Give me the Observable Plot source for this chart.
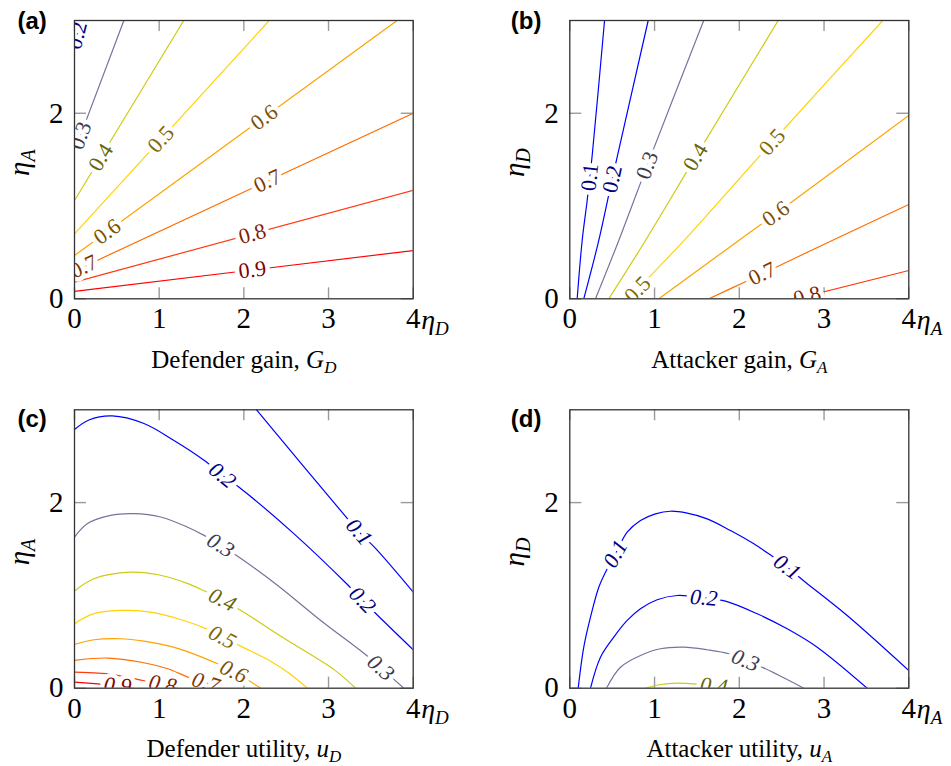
<!DOCTYPE html>
<html><head><meta charset="utf-8">
<script src="https://cdn.jsdelivr.net/npm/d3@7"></script>
<script src="https://cdn.jsdelivr.net/npm/@observablehq/plot@0.6"></script>
<style>
html,body{margin:0;padding:0;background:#fff;}
#root{position:relative;width:951px;height:766px;overflow:hidden;background:#fff;}
#root svg{position:absolute;}
#root svg text{font-family:'Liberation Serif','Times New Roman',serif;}
#root svg text.letter{font-family:'Liberation Sans',Arial,sans-serif;font-weight:bold;}
</style></head><body><div id="root"></div>
<script>
// ---------- data ----------
const xTicks = [0, 1, 2, 3, 4];
const yTicks = [0, 2];
const levels = [0.1, 0.2, 0.3, 0.4, 0.5, 0.6, 0.7, 0.8, 0.9];

// (a) Defender gain G_D : x = eta_D, y = eta_A
const contoursA = [
  {level: 0.2, pts: [[0, 2.73], [0.074, 3]]},
  {level: 0.3, pts: [[0, 1.59], [0.583, 3]]},
  {level: 0.4, pts: [[0, 1.06], [1.29, 3]]},
  {level: 0.5, pts: [[0, 0.70], [2.30, 3]]},
  {level: 0.6, pts: [[0, 0.467], [3.81, 3]]},
  {level: 0.7, pts: [[0, 0.30], [4, 2.0]]},
  {level: 0.8, pts: [[0, 0.18], [4, 1.17]]},
  {level: 0.9, pts: [[0, 0.08], [4, 0.52]]}
];
const labelsA = [
  {level: 0.2, x: 0.03, y: 2.84},
  {level: 0.3, x: 0.07, y: 1.76},
  {level: 0.4, x: 0.31, y: 1.525},
  {level: 0.5, x: 1.02, y: 1.72},
  {level: 0.6, x: 0.386, y: 0.724},
  {level: 0.6, x: 2.24, y: 1.956},
  {level: 0.7, x: 0.11, y: 0.347},
  {level: 0.7, x: 2.28, y: 1.27},
  {level: 0.8, x: 2.1, y: 0.70},
  {level: 0.9, x: 2.1, y: 0.311}
];

// (b) Attacker gain G_A : x = eta_A, y = eta_D
const contoursB = [
  {level: 0.1, pts: [[0.087, 0], [0.146, 0.629], [0.205, 1.06], [0.264, 1.545], [0.41, 3]]},
  {level: 0.2, pts: [[0.165, 0], [0.342, 0.629], [0.5, 1.29], [0.925, 3]]},
  {level: 0.3, pts: [[0.303, 0], [0.578, 0.629], [0.913, 1.438], [1.58, 3]]},
  {level: 0.4, pts: [[0.46, 0], [0.893, 0.629], [1.483, 1.527], [2.459, 3]]},
  {level: 0.5, pts: [[0.694, 0], [0.936, 0.233], [1.349, 0.629], [2.388, 1.69], [3.693, 3]]},
  {level: 0.6, pts: [[1.05, 0], [1.994, 0.629], [2.431, 0.917], [4, 1.977]]},
  {level: 0.7, pts: [[1.64, 0], [2.034, 0.168], [3.096, 0.629], [4, 1.017]]},
  {level: 0.8, pts: [[2.67, 0], [4, 0.305]]}
];
const labelsB = [
  {level: 0.1, x: 0.236, y: 1.31},
  {level: 0.2, x: 0.50, y: 1.29},
  {level: 0.3, x: 0.913, y: 1.438},
  {level: 0.4, x: 1.483, y: 1.527},
  {level: 0.5, x: 2.388, y: 1.69},
  {level: 0.5, x: 0.80, y: 0.10},
  {level: 0.6, x: 2.431, y: 0.917},
  {level: 0.7, x: 2.27, y: 0.27},
  {level: 0.8, x: 2.80, y: 0.03}
];

// (c) Defender utility u_D : x = eta_D, y = eta_A
const contoursC = [
  {level: 0.1, pts: [[2.15, 3], [3.223, 1.827], [3.36, 1.683], [3.558, 1.504], [4, 1.036]]},
  {level: 0.2, pts: [[0, 2.787], [0.17, 2.89], [0.445, 2.934], [0.82, 2.852], [1.17, 2.672], [1.53, 2.456], [1.745, 2.295], [1.94, 2.168], [2.59, 1.666], [3.22, 1.12], [3.40, 0.95], [3.597, 0.77], [4, 0.414]]},
  {level: 0.3, pts: [[0, 1.629], [0.15, 1.773], [0.426, 1.863], [0.70, 1.881], [1.017, 1.845], [1.33, 1.737], [1.53, 1.647], [1.726, 1.539], [1.94, 1.413], [2.396, 1.11], [2.908, 0.73], [3.44, 0.36], [3.617, 0.22], [3.89, 0]]},
  {level: 0.4, pts: [[0, 1.047], [0.228, 1.18], [0.662, 1.251], [0.977, 1.225], [1.33, 1.13], [1.53, 1.05], [1.746, 0.953], [1.962, 0.84], [2.47, 0.54], [3.065, 0.2], [3.32, 0]]},
  {level: 0.5, pts: [[0, 0.695], [0.228, 0.803], [0.583, 0.838], [0.937, 0.815], [1.253, 0.74], [1.53, 0.65], [1.746, 0.55], [1.98, 0.445], [2.317, 0.29], [2.55, 0.15], [2.75, 0]]},
  {level: 0.6, pts: [[0, 0.471], [0.228, 0.522], [0.544, 0.533], [0.82, 0.507], [1.135, 0.45], [1.3, 0.405], [1.69, 0.263], [1.88, 0.18], [2.2, 0]]},
  {level: 0.7, pts: [[0, 0.30], [0.39, 0.325], [0.79, 0.28], [1.1, 0.21], [1.34, 0.12], [1.55, 0.06], [1.72, 0]]},
  {level: 0.8, pts: [[0, 0.173], [0.275, 0.162], [0.43, 0.152], [0.807, 0.083], [1.04, 0.042], [1.22, 0]]},
  {level: 0.9, pts: [[0, 0.065], [0.275, 0.047], [0.51, 0.028], [0.7, 0]]}
];
const labelsC = [
  {level: 0.1, x: 3.36, y: 1.683},
  {level: 0.2, x: 1.745, y: 2.295},
  {level: 0.2, x: 3.40, y: 0.95},
  {level: 0.3, x: 1.726, y: 1.539},
  {level: 0.3, x: 3.617, y: 0.22},
  {level: 0.4, x: 1.746, y: 0.953},
  {level: 0.5, x: 1.746, y: 0.55},
  {level: 0.6, x: 1.88, y: 0.18},
  {level: 0.7, x: 1.55, y: 0.06},
  {level: 0.8, x: 1.04, y: 0.042},
  {level: 0.9, x: 0.51, y: 0.028}
];

// (d) Attacker utility u_A : x = eta_A, y = eta_D
const contoursD = [
  {level: 0.1, pts: [[0.099, 0], [0.165, 0.442], [0.244, 0.765], [0.342, 1.088], [0.421, 1.25], [0.539, 1.448], [0.677, 1.681], [0.834, 1.807], [1.011, 1.879], [1.188, 1.907], [1.385, 1.886], [1.621, 1.825], [1.896, 1.699], [2.171, 1.556], [2.348, 1.448], [2.565, 1.304], [2.781, 1.142], [3.273, 0.783], [4, 0.19]]},
  {level: 0.2, pts: [[0.244, 0], [0.362, 0.334], [0.519, 0.55], [0.677, 0.73], [0.834, 0.856], [1.031, 0.953], [1.267, 0.999], [1.581, 0.974], [1.837, 0.938], [2.211, 0.802], [2.565, 0.64], [2.919, 0.442], [3.509, 0]]},
  {level: 0.3, pts: [[0.433, 0], [0.598, 0.226], [0.834, 0.352], [1.07, 0.425], [1.345, 0.442], [1.621, 0.414], [1.876, 0.371], [2.073, 0.30], [2.309, 0.209], [2.761, 0]]},
  {level: 0.4, pts: [[0.893, 0], [1.07, 0.04], [1.267, 0.054], [1.463, 0.047], [1.7, 0.025], [1.9, 0]]}
];
const labelsD = [
  {level: 0.1, x: 0.539, y: 1.448},
  {level: 0.1, x: 2.565, y: 1.304},
  {level: 0.2, x: 1.581, y: 0.974},
  {level: 0.3, x: 2.073, y: 0.30},
  {level: 0.4, x: 1.7, y: 0.025}
];

// ---------- styles ----------
const lineColors = ["#0000ff", "#0000ff", "#74749c", "#cccc10", "#ffd400", "#ffa200", "#ff6e00", "#ff3a10", "#ff0000"];
const lineColor = l => lineColors[levels.indexOf(l)];
const labelColor = l => d3.interpolateRgb(lineColor(l), "#000")(0.5);
const SERIF = "'Liberation Serif', 'Times New Roman', serif";

function angleAt(pts, x, y, kx, ky) {
  let best = Infinity, ang = 0;
  for (let i = 0; i < pts.length - 1; i++) {
    const X1 = pts[i][0] * kx, Y1 = -pts[i][1] * ky, X2 = pts[i + 1][0] * kx, Y2 = -pts[i + 1][1] * ky;
    const P = x * kx, Q = -y * ky, dx = X2 - X1, dy = Y2 - Y1;
    let t = ((P - X1) * dx + (Q - Y1) * dy) / (dx * dx + dy * dy);
    t = Math.max(0, Math.min(1, t));
    const d = Math.hypot(X1 + t * dx - P, Y1 + t * dy - Q);
    if (d < best) { best = d; ang = Math.atan2(dy, dx) * 180 / Math.PI; }
  }
  if (ang > 90) ang -= 180;
  if (ang < -90) ang += 180;
  return ang;
}

function rich(svg, marker, parts) {
  svg.querySelectorAll("text").forEach(t => {
    if (t.textContent !== marker) return;
    t.textContent = "";
    for (const p of parts) {
      const s = document.createElementNS("http://www.w3.org/2000/svg", "tspan");
      s.textContent = p.t;
      s.setAttribute("font-style", p.i ? "italic" : "normal");
      if (p.fs) s.setAttribute("font-size", p.fs);
      if (p.dy) s.setAttribute("dy", p.dy);
      t.appendChild(s);
    }
  });
}

const panels = [
  {contours: contoursA, labels: labelsA, left: 0, top: 0, w: 476, h: 383, ml: 74, mr: 63.3, mt: 20, mb: 84.7,
   italic: false, letter: "(a)", ldx: -57, ldy: 8, title: ["Defender gain, ", "G", "D"], yName: "A", xName: "D"},
  {contours: contoursB, labels: labelsB, left: 476, top: 0, w: 475, h: 383, ml: 93.3, mr: 42.7, mt: 20, mb: 84.7,
   italic: false, letter: "(b)", ldx: -59, ldy: 8, title: ["Attacker gain, ", "G", "A"], yName: "D", xName: "A"},
  {contours: contoursC, labels: labelsC, left: 0, top: 383, w: 476, h: 383, ml: 74, mr: 63.3, mt: 26.3, mb: 78.3,
   italic: true, letter: "(c)", ldx: -57, ldy: 17, title: ["Defender utility, ", "u", "D"], yName: "A", xName: "D"},
  {contours: contoursD, labels: labelsD, left: 476, top: 383, w: 475, h: 383, ml: 93.3, mr: 42.7, mt: 26.3, mb: 78.3,
   italic: true, letter: "(d)", ldx: -59, ldy: 17, title: ["Attacker utility, ", "u", "A"], yName: "D", xName: "A"}
];

const root = document.getElementById("root");

for (const P of panels) {
  const innerW = P.w - P.ml - P.mr, innerH = P.h - P.mt - P.mb;
  const kx = innerW / 4, ky = innerH / 3;
  const linePts = P.contours.flatMap(c => c.pts.map(([x, y]) => ({level: c.level, x, y})));
  const labelRows = P.labels.map(l => {
    const c = P.contours.find(c => c.level === l.level);
    return {...l, angle: angleAt(c.pts, l.x, l.y, kx, ky)};
  });
  const titleMarker = "TITLE_" + P.letter;
  const yMarker = "YNAME_" + P.letter;
  const xMarker = "XNAME_" + P.letter;

  const svg = Plot.plot({
    width: P.w, height: P.h,
    marginLeft: P.ml, marginRight: P.mr, marginTop: P.mt, marginBottom: P.mb,
    style: {fontFamily: SERIF, fontSize: "29px", background: "transparent", overflow: "visible", color: "#000"},
    x: {domain: [0, 4], ticks: xTicks, tickSize: 0, tickPadding: 9, tickFormat: d => String(d), label: null},
    y: {domain: [0, 3], ticks: yTicks, tickSize: 0, tickPadding: 11, tickFormat: d => String(d), label: null},
    color: {type: "identity"},
    marks: [
      // inward ticks on all four sides
      Plot.ruleX(xTicks, {x: d => d, insetTop: innerH - 11, stroke: "#9a9a9a", strokeWidth: 1.4}),
      Plot.ruleX(xTicks, {x: d => d, insetBottom: innerH - 11, stroke: "#9a9a9a", strokeWidth: 1.4}),
      Plot.ruleY(yTicks, {y: d => d, insetRight: innerW - 12, stroke: "#9a9a9a", strokeWidth: 1.4}),
      Plot.ruleY(yTicks, {y: d => d, insetLeft: innerW - 12, stroke: "#9a9a9a", strokeWidth: 1.4}),
      // contour lines
      Plot.line(linePts, {x: "x", y: "y", z: "level", stroke: d => lineColor(d.level), strokeWidth: 1.2, clip: true, curve: "catmull-rom"}),
      // inline contour labels
      Plot.text(labelRows, {
        x: "x", y: "y", text: d => d.level.toFixed(1), rotate: "angle",
        fill: d => labelColor(d.level), stroke: "white", strokeWidth: 9, strokeLinejoin: "round",
        fontSize: 22, fontStyle: P.italic ? "italic" : "normal", fontFamily: SERIF, clip: true,
        textAnchor: "middle", lineAnchor: "middle"
      }),
      Plot.frame({stroke: "#333", strokeWidth: 1.3}),
      // axis names
      Plot.text([xMarker], {x: () => 4, frameAnchor: "bottom", text: d => d, dx: 8, dy: 30, textAnchor: "start", lineAnchor: "bottom", fontSize: 28, fontFamily: SERIF}),
      Plot.text([yMarker], {frameAnchor: "left", text: d => d, dx: -46, dy: 3, rotate: -90, textAnchor: "middle", lineAnchor: "bottom", fontSize: 29, fontFamily: SERIF}),
      Plot.text([titleMarker], {frameAnchor: "bottom", text: d => d, dy: 69, textAnchor: "middle", lineAnchor: "bottom", fontSize: 25, fontFamily: SERIF}),
      Plot.text([P.letter], {frameAnchor: "top-left", text: d => d, dx: P.ldx, dy: P.ldy, textAnchor: "start", lineAnchor: "bottom", fontSize: 24, fontWeight: "bold", fontFamily: "'Liberation Sans', Arial, sans-serif"})
    ]
  });
  svg.style.left = P.left + "px";
  svg.style.top = P.top + "px";
  svg.querySelectorAll("text").forEach(t => { if (t.textContent === P.letter) t.setAttribute("class", "letter"); });
  rich(svg, xMarker, [{t: "η", i: true}, {t: P.xName, i: true, fs: 19, dy: 6}]);
  rich(svg, yMarker, [{t: "η", i: true}, {t: P.yName, i: true, fs: 20, dy: 6}]);
  rich(svg, titleMarker, [{t: P.title[0]}, {t: P.title[1], i: true}, {t: P.title[2], i: true, fs: 17, dy: 5}]);
  root.appendChild(svg);
}
</script>
</body></html>
